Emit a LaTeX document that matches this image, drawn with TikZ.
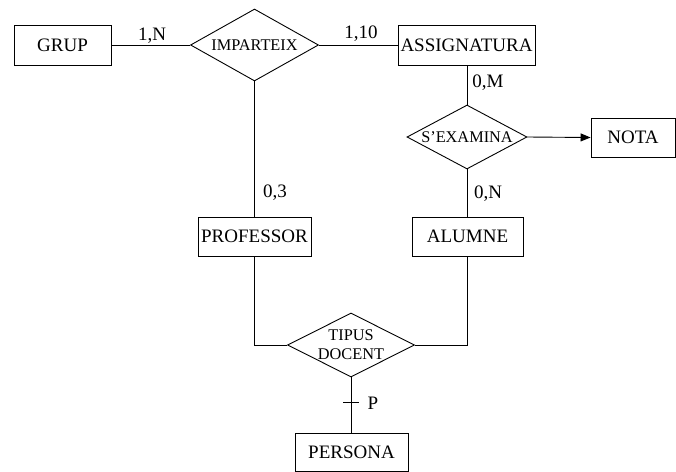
\documentclass[tikz,border=0pt]{standalone}
\usepackage{fontspec}
\setmainfont{Liberation Serif}
\usetikzlibrary{shapes.geometric,arrows.meta}
\begin{document}
\begin{tikzpicture}[x=1pt,y=-1pt,
  every path/.style={line width=0.9pt},
  entity/.style={draw, rectangle, inner sep=0pt, font=\fontsize{19}{21}\selectfont},
  relation/.style={draw, diamond, inner sep=0pt},
  reltext/.style={font=\fontsize{16.3}{19}\selectfont, align=center},
  card/.style={inner sep=0pt, font=\fontsize{19}{21}\selectfont},
  link/.style={draw, line width=0.9pt}]
\useasboundingbox (0,0) rectangle (676,471);

% entities
\node[entity, minimum width=97pt, minimum height=40pt] (grup) at (62.5,45) {GRUP};
\node[entity, minimum width=137pt, minimum height=40pt] (assig) at (466.5,45) {ASSIGNATURA};
\node[entity, minimum width=84pt, minimum height=39pt] (nota) at (633,137.5) {NOTA};
\node[entity, minimum width=111pt, minimum height=39pt] (alumne) at (467.5,236.5) {ALUMNE};
\node[entity, minimum width=113pt, minimum height=39pt] (prof) at (254.5,236.5) {PROFESSOR};
\node[entity, minimum width=113pt, minimum height=38pt] (persona) at (351.5,452) {PERSONA};

% relationships
\node[relation, minimum width=128pt, minimum height=72pt,
  label={[reltext]center:IMPARTEIX}] (imparteix) at (254.5,45) {};
\node[relation, minimum width=120pt, minimum height=64pt,
  label={[reltext]center:S'EXAMINA}] (examina) at (467,137) {};
\node[relation, minimum width=127pt, minimum height=64pt,
  label={[reltext]center:TIPUS\\DOCENT}] (tipus) at (351,345) {};

% connectors
\draw[link] (grup.east) -- (imparteix.west);
\draw[link] (imparteix.east) -- (assig.west);
\draw[link] (imparteix.south) -- (prof.north);
\draw[link] (assig.south -| examina.north) -- (examina.north);
\draw[link] (examina.south) -- (alumne.north -| examina.south);
\draw[link, -{Triangle[length=10pt,width=8pt]}] (examina.east) -- (nota.west);
\draw[link] (prof.south) |- (tipus.west);
\draw[link] (alumne.south -| examina.south) |- (tipus.east);
\draw[link] (tipus.south) -- (persona.north -| tipus.south);

% partial-participation tick
\coordinate (tick) at (351,402);
\draw[link] ([xshift=-8pt]tick) -- ([xshift=8pt]tick);
\node[card] (p) at (373,403) {P};

% cardinalities
\node[card] (c1) at (152,36) {1,N};
\node[card] (c2) at (361,34) {1,10};
\node[card] (c3) at (488,83) {0,M};
\node[card] (c4) at (488,194) {0,N};
\node[card] (c5) at (275,193) {0,3};
\end{tikzpicture}
\end{document}
